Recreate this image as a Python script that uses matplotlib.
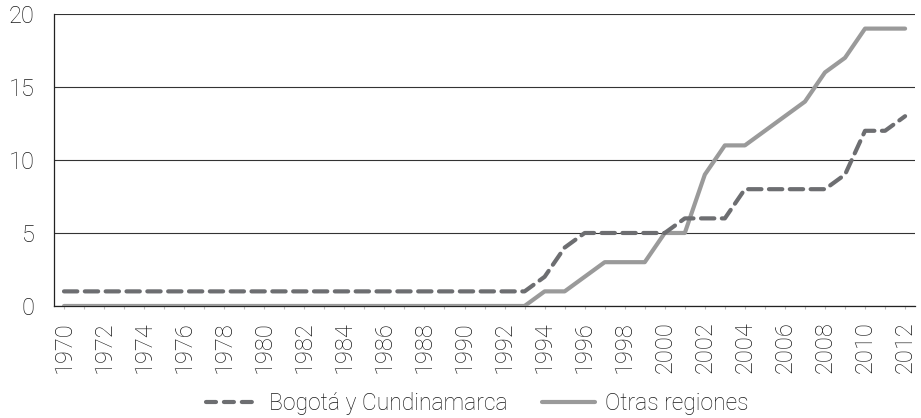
import numpy as np
import matplotlib
matplotlib.use('Agg')
import matplotlib.pyplot as plt
from matplotlib.lines import Line2D

plt.rcParams['font.family'] = ['Roboto', 'DejaVu Sans']
plt.rcParams['font.weight'] = 'light'

years = list(range(1970, 2013))
bogota = [1] * 24 + [2, 4, 5, 5, 5, 5, 5, 6, 6, 6, 8, 8, 8, 8, 8, 9, 12, 12, 13]
otras = [0] * 24 + [1, 1, 2, 3, 3, 3, 5, 5, 9, 11, 11, 12, 13, 14, 16, 17, 19, 19, 19]
labels = ['Bogotá y Cundinamarca', 'Otras regiones']

dark = '#6d6e71'
light = '#9a9a9a'
txt = '#1a1a1a'

fig = plt.figure(figsize=(9.21, 4.18), dpi=100)
ax = fig.add_axes([0.0586, 0.268, 0.935, 0.6985])

x = np.arange(len(years))
ax.plot(x, otras, color=light, lw=3.0, solid_capstyle='round', zorder=3)
ax.plot(x, bogota, color=dark, lw=3.0, dashes=(3.2, 1.8), dash_capstyle='round', zorder=4)

ax.set_xlim(-0.5, len(years) - 0.5)
ax.set_ylim(0, 20)
ax.set_yticks([0, 5, 10, 15, 20])
ax.yaxis.grid(True, color='#333333', lw=0.8)
ax.set_axisbelow(True)

ax.set_xticks(x)
ax.set_xticklabels([str(y) if (y - 1970) % 2 == 0 else '' for y in years], rotation=90)
ax.tick_params(axis='x', length=2.2, color='#bbbbbb', pad=9, labelsize=17, labelcolor=txt)
ax.tick_params(axis='y', length=0, pad=14, labelsize=17, labelcolor=txt)

for s in ['top', 'right']:
    ax.spines[s].set_visible(False)
ax.spines['left'].set_color('#222222')
ax.spines['bottom'].set_color('#222222')
ax.spines['left'].set_linewidth(0.9)
ax.spines['bottom'].set_linewidth(0.9)

handles = [Line2D([], [], color=dark, lw=3.0, dashes=(2.4, 1.9), dash_capstyle='round'),
           Line2D([], [], color=light, lw=3.0, solid_capstyle='round')]
leg = fig.legend(handles, labels, loc='center', bbox_to_anchor=(0.518, 0.035), ncol=2,
                 frameon=False, fontsize=16.5, handlelength=2.3, columnspacing=1.5,
                 handletextpad=0.45, borderpad=0, borderaxespad=0)
for t in leg.get_texts():
    t.set_color(txt)

plt.savefig('out.png', dpi=100)
